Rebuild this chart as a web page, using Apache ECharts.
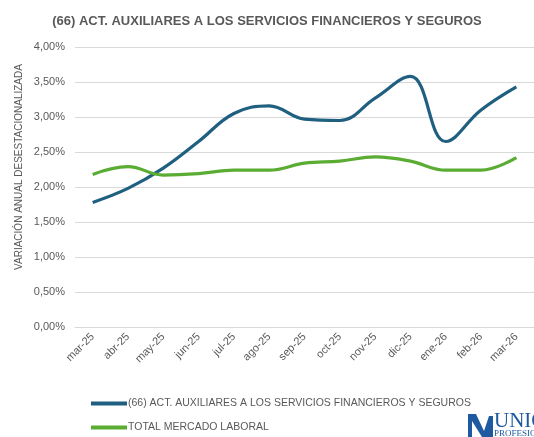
<!DOCTYPE html>
<html><head><meta charset="utf-8">
<script src="https://cdn.jsdelivr.net/npm/echarts@6/dist/echarts.min.js"></script>
<style>html,body{margin:0;padding:0;background:#fff}#c{width:534px;height:437px}</style>
</head><body><div id="c"></div>
<script>
const categories = ['mar-25','abr-25','may-25','jun-25','jul-25','ago-25','sep-25','oct-25','nov-25','dic-25','ene-26','feb-26','mar-26'];
const sectorName = '(66) ACT. AUXILIARES A LOS SERVICIOS FINANCIEROS Y SEGUROS';
const totalName = 'TOTAL MERCADO LABORAL';
const yAxisTitle = 'VARIACIÓN ANUAL DESESTACIONALIZADA';
const sectorValues = [1.78, 1.98, 2.27, 2.65, 3.05, 3.16, 2.97, 2.95, 3.27, 3.58, 2.65, 3.10, 3.43];
const totalValues = [2.18, 2.29, 2.17, 2.19, 2.24, 2.24, 2.34, 2.37, 2.43, 2.37, 2.24, 2.24, 2.42];

const FONT = "'Liberation Sans Narrow','Arial Narrow','Liberation Sans',sans-serif";
const GREY = '#595959';
const legendText = {fontFamily: FONT, fontSize: 10.5, color: GREY, padding: [0,0,0,-4]};
const chart = echarts.init(document.getElementById('c'));
chart.setOption({
  animation: false,
  title: {
    text: sectorName, left: 'center', top: 10,
    textStyle: {fontFamily: FONT, fontSize: 13, fontWeight: 'bold', color: GREY}
  },
  grid: {left: 75, top: 47, width: 465, height: 280},
  legend: [
    {left: 86, top: 393, itemWidth: 36, itemHeight: 4, icon: 'rect', textStyle: legendText, data: [sectorName]},
    {left: 86, top: 417, itemWidth: 36, itemHeight: 4, icon: 'rect', textStyle: legendText, data: [totalName]}
  ],
  xAxis: {
    type: 'category', data: categories, boundaryGap: true,
    axisLine: {lineStyle: {color: '#d9d9d9', width: 1}},
    axisTick: {show: false},
    axisLabel: {rotate: 45, fontFamily: FONT, fontSize: 11, color: GREY, margin: 8, interval: 0}
  },
  yAxis: {
    type: 'value', min: 0, max: 4, interval: 0.5,
    axisLine: {show: false}, axisTick: {show: false},
    splitLine: {lineStyle: {color: '#d9d9d9', width: 1}},
    axisLabel: {fontFamily: FONT, fontSize: 11, color: GREY, margin: 10,
      formatter: v => v.toFixed(2).replace('.', ',') + '%'}
  },
  series: [
    {name: sectorName, type: 'line', data: sectorValues, smooth: 0.4, symbol: 'none',
      lineStyle: {color: '#1f5f80', width: 3.2}, itemStyle: {color: '#1f5f80'}},
    {name: totalName, type: 'line', data: totalValues, smooth: 0.4, symbol: 'none',
      lineStyle: {color: '#5aac32', width: 3.2}, itemStyle: {color: '#5aac32'}}
  ],
  graphic: [
    {type: 'text', x: 19, y: 167, rotation: Math.PI / 2,
      style: {text: yAxisTitle, font: "10px 'Liberation Sans',sans-serif", fill: GREY, align: 'center', verticalAlign: 'middle'}},
    {type: 'polygon', shape: {points: [[468,414],[476,414],[484,431],[489,416],[493,416],[493,437],[482,437],[472,421],[472,437],[468,437]]},
      style: {fill: '#1f5aa0'}},
    {type: 'text', left: 494, top: 411, style: {text: 'UNIÓ', font: "21px 'Liberation Serif',serif", fill: '#1f5aa0'}},
    {type: 'text', left: 494, top: 429, style: {text: 'PROFESIO', font: "9px 'Liberation Serif',serif", fill: '#1f5aa0'}}
  ]
});
</script></body></html>
